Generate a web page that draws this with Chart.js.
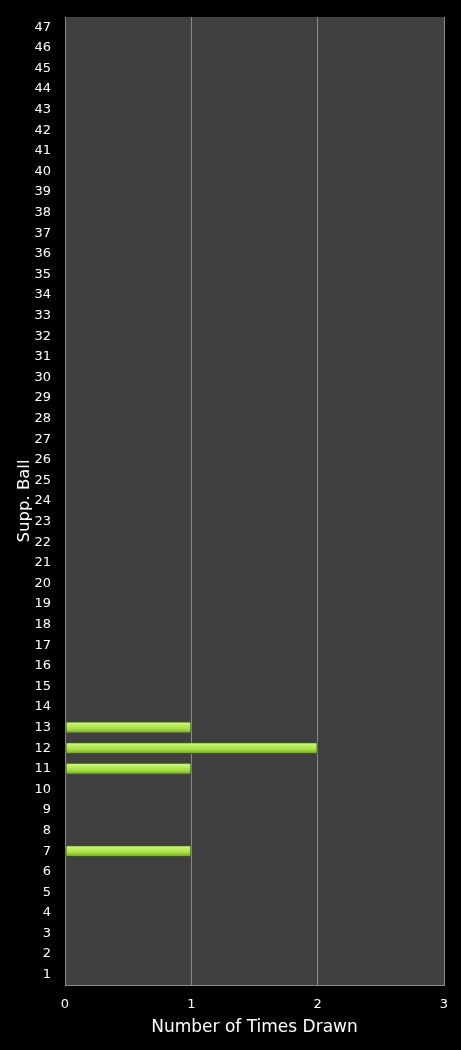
<!DOCTYPE html>
<html>
<head>
<meta charset="utf-8">
<script src="https://cdn.jsdelivr.net/npm/chart.js@4.4.0/dist/chart.umd.min.js"></script>
<style>
  html, body { margin: 0; padding: 0; background: #000; }
  #wrap { width: 461px; height: 1050px; position: relative; }
</style>
</head>
<body>
<div id="wrap"><canvas id="c" width="461" height="1050"></canvas></div>
<script>
const balls = ['1','2','3','4','5','6','7','8','9','10','11','12','13','14','15','16','17','18','19','20','21','22','23','24','25','26','27','28','29','30','31','32','33','34','35','36','37','38','39','40','41','42','43','44','45','46','47'];
const timesDrawn = [0,0,0,0,0,0,1,0,0,0,1,2,1,0,0,0,0,0,0,0,0,0,0,0,0,0,0,0,0,0,0,0,0,0,0,0,0,0,0,0,0,0,0,0,0,0,0];
const xTicks = [0,1,2,3];

const plotBg = {
  id: 'plotBg',
  beforeDraw(chart) {
    const {ctx, chartArea: a} = chart;
    ctx.save();
    ctx.fillStyle = '#404040';
    ctx.fillRect(a.left, a.top, a.right - a.left, a.bottom - a.top);
    ctx.restore();
  }
};

function barGradient(context) {
  const chart = context.chart;
  const ys = chart.scales && chart.scales.y;
  if (!chart.chartArea || !ys || context.dataIndex === undefined) return '#9ad23c';
  const y = ys.getPixelForValue(context.dataIndex);
  const h = 12;
  const g = chart.ctx.createLinearGradient(0, y - h / 2, 0, y + h / 2);
  g.addColorStop(0, '#dcf8a0');
  g.addColorStop(0.3, '#bcee64');
  g.addColorStop(0.65, '#a0dc3c');
  g.addColorStop(1, '#6a9a20');
  return g;
}

new Chart(document.getElementById('c'), {
  type: 'bar',
  data: {
    labels: balls,
    datasets: [{
      data: timesDrawn,
      backgroundColor: barGradient,
      borderColor: '#3c5a14',
      borderWidth: (c) => (c.raw > 0 ? 1 : 0),
      borderSkipped: false,
      barPercentage: 0.58,
      categoryPercentage: 1.0
    }]
  },
  options: {
    indexAxis: 'y',
    responsive: false,
    animation: false,
    devicePixelRatio: 1,
    layout: { padding: { top: 17, right: 17, left: 0, bottom: 0 } },
    plugins: { legend: { display: false }, tooltip: { enabled: false } },
    scales: {
      x: {
        min: 0, max: 3,
        afterBuildTicks: (s) => { s.ticks = xTicks.map(v => ({ value: v })); },
        afterFit: (s) => { s.height = 65; s.paddingLeft = 0; s.paddingRight = 0; },
        grid: { color: '#8a8a8a', lineWidth: 1, drawTicks: false },
        border: { display: true, color: '#8a8a8a', width: 1 },
        ticks: { color: '#ffffff', padding: 12, font: { family: 'DejaVu Sans', size: 13 } },
        title: {
          display: true, text: 'Number of Times Drawn', color: '#ffffff',
          font: { family: 'DejaVu Sans', size: 17 }, padding: { top: 0, bottom: 12 }
        }
      },
      y: {
        reverse: true,
        afterFit: (s) => { s.width = 65; s.paddingTop = 0; s.paddingBottom = 0; },
        grid: { display: false, drawTicks: false },
        border: { display: true, color: '#8a8a8a', width: 1 },
        ticks: { color: '#ffffff', padding: 14, autoSkip: false, font: { family: 'DejaVu Sans', size: 13 } },
        title: {
          display: true, text: 'Supp. Ball', color: '#ffffff',
          font: { family: 'DejaVu Sans', size: 16.5 }, padding: { top: 15, bottom: 0 }
        }
      }
    }
  },
  plugins: [plotBg]
});
</script>
</body>
</html>
